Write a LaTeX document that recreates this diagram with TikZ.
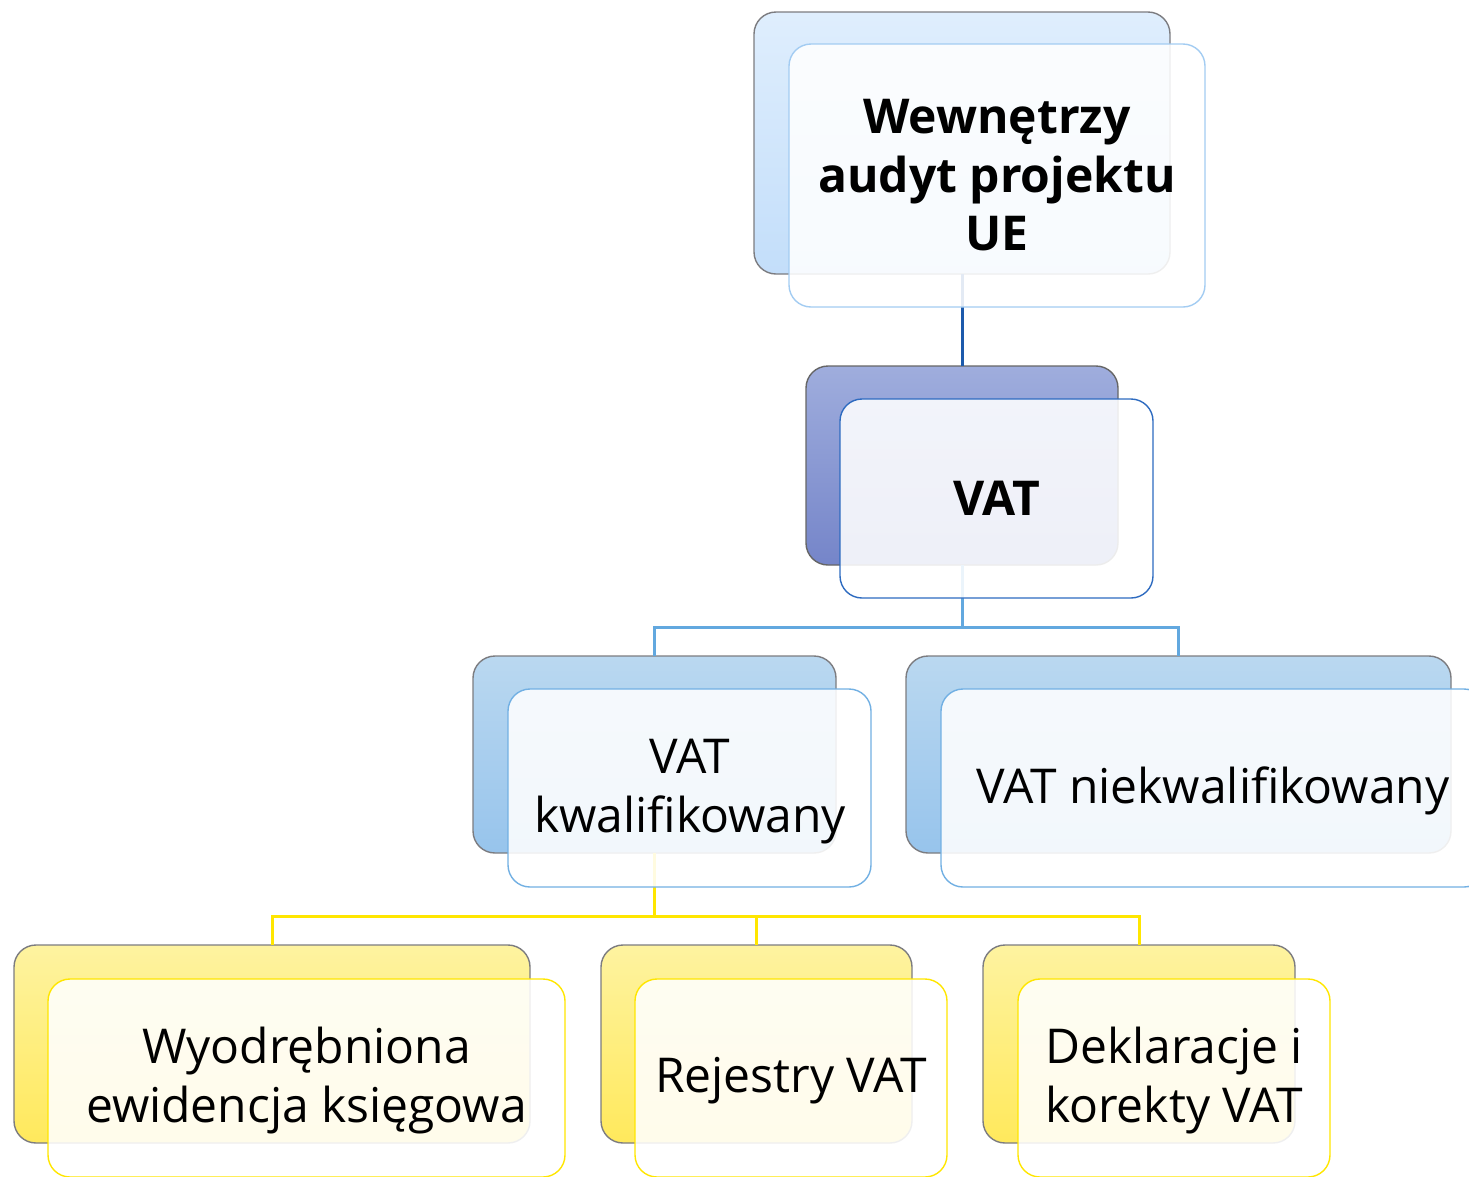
\documentclass[tikz,border=0pt]{standalone}
\usepackage{fontspec}
\setmainfont{Open Sans}
\definecolor{backline}{HTML}{7C7C80}
\definecolor{topA}{HTML}{DFEEFD}
\definecolor{topB}{HTML}{C3DEFA}
\definecolor{topF}{HTML}{A3CCF2}
\definecolor{vatA}{HTML}{9FADDD}
\definecolor{vatB}{HTML}{7585C9}
\definecolor{vatF}{HTML}{2E6BC0}
\definecolor{midA}{HTML}{BAD8F0}
\definecolor{midB}{HTML}{97C4EC}
\definecolor{midF}{HTML}{72B0E3}
\definecolor{lowA}{HTML}{FEF3A0}
\definecolor{lowB}{HTML}{FFE95C}
\definecolor{lowF}{HTML}{FFE600}
\definecolor{cTop}{HTML}{1C5AAC}
\definecolor{cMid}{HTML}{62A8DF}
\definecolor{cLow}{HTML}{FFE600}
\begin{document}
\begin{tikzpicture}[x=1pt,y=-1pt,
  box/.style={rectangle, rounded corners=22pt, inner sep=0pt, outer sep=0pt, anchor=north west, line width=1.4pt},
  back/.style 2 args={box, draw=backline, top color=#1, bottom color=#2},
  front/.style={box, fill=white, fill opacity=0.88, draw=#1},
  lbl/.style={anchor=base, inner sep=0pt, font=\fontsize{48}{58}\selectfont},
  blbl/.style={anchor=base, inner sep=0pt, font=\fontsize{48}{58}\selectfont\bfseries},
  conn/.style={line width=3pt, draw=#1}]
\useasboundingbox (0,0) rectangle (1469,1176);
\clip (0,0) rectangle (1469,1176);
% back boxes
\node[back={topA}{topB}, minimum width=416pt, minimum height=262pt] (t) at (754,12) {};
\node[back={vatA}{vatB}, draw=black!60, minimum width=312pt, minimum height=199pt] (v) at (806,366) {};
\node[back={midA}{midB}, minimum width=363pt, minimum height=197pt] (k) at (473,656) {};
\node[back={midA}{midB}, minimum width=545pt, minimum height=197pt] (n) at (906,656) {};
\node[back={lowA}{lowB}, minimum width=516pt, minimum height=198pt] (w) at (14,945) {};
\node[back={lowA}{lowB}, minimum width=311pt, minimum height=198pt] (r) at (601,945) {};
\node[back={lowA}{lowB}, minimum width=312pt, minimum height=198pt] (d) at (983,945) {};
% connectors
\coordinate (j1) at (962,627);
\coordinate (j2) at (654.5,916);
\draw[conn=cTop] (t.south) -- (v.north);
\draw[conn=cMid] (v.south) -- (j1) -| (k.north);
\draw[conn=cMid] (j1) -| (n.north);
\draw[conn=cLow] (k.south) -- (j2) -| (w.north);
\draw[conn=cLow] (j2) -| (r.north);
\draw[conn=cLow] (j2) -| (d.north);
% front boxes
\node[front=topF, minimum width=416pt, minimum height=263pt] (tf) at (789,44) {};
\node[front=vatF, minimum width=313pt, minimum height=199pt] (vf) at (840,399) {};
\node[front=midF, minimum width=363pt, minimum height=198pt] (kf) at (508,689) {};
\node[front=midF, minimum width=545pt, minimum height=198pt] (nf) at (941,689) {};
\node[front=lowF, minimum width=517pt, minimum height=198pt] (wf) at (48,979) {};
\node[front=lowF, minimum width=312pt, minimum height=198pt] (rf) at (635,979) {};
\node[front=lowF, minimum width=312pt, minimum height=198pt] (df) at (1018,979) {};
% texts
\node[blbl] (t1) at (997,133) {Wewnętrzy};
\node[blbl] (t2) at (997,192) {audyt projektu};
\node[blbl] (t3) at (997,250) {UE};
\node[blbl] (v1) at (997,515) {VAT};
\node[lbl] (k1) at (690,773) {VAT};
\node[lbl] (k2) at (690,832) {kwalifikowany};
\node[lbl] (n1) at (1213,803) {VAT niekwalifikowany};
\node[lbl] (w1) at (306.5,1063) {Wyodrębniona};
\node[lbl] (w2) at (306.5,1122) {ewidencja księgowa};
\node[lbl] (r1) at (791,1092) {Rejestry VAT};
\node[lbl] (d1) at (1174,1063) {Deklaracje i};
\node[lbl] (d2) at (1174,1122) {korekty VAT};
\end{tikzpicture}
\end{document}
